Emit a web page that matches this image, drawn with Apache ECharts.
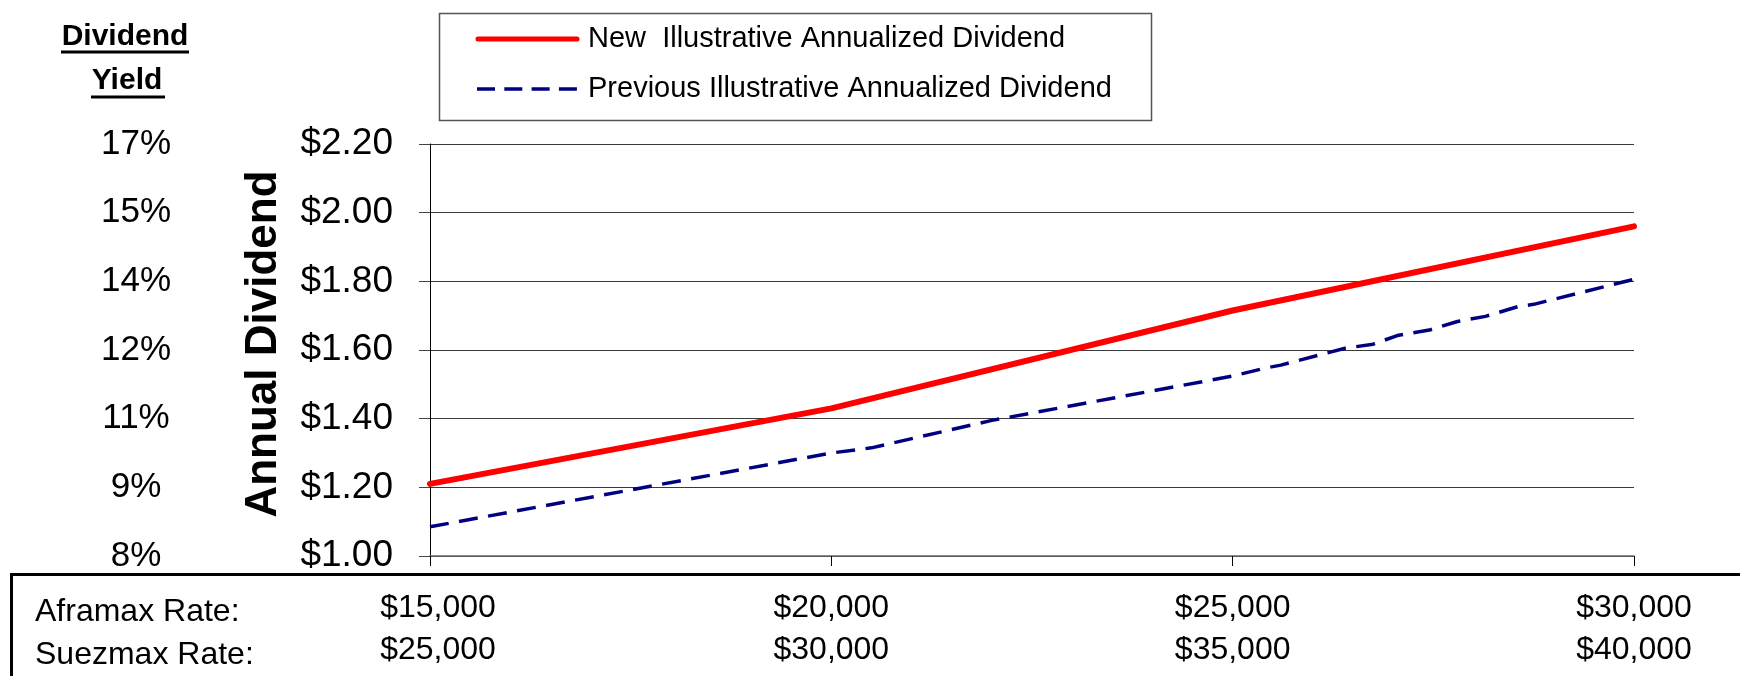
<!DOCTYPE html>
<html>
<head>
<meta charset="utf-8">
<script src="https://cdn.jsdelivr.net/npm/echarts@6/dist/echarts.min.js"></script>
<style>
html,body{margin:0;padding:0;background:#fff;}
#chart{width:1740px;height:676px;}
</style>
</head>
<body>
<div id="chart"></div>
<script>
// ---- data ----
const aframaxRates = [15000, 20000, 25000, 30000];
const aframaxLabels = ['$15,000', '$20,000', '$25,000', '$30,000'];
const suezmaxLabels = ['$25,000', '$30,000', '$35,000', '$40,000'];
const yieldLabels = ['8%', '9%', '11%', '12%', '14%', '15%', '17%'];
const dividendTicks = [1.00, 1.20, 1.40, 1.60, 1.80, 2.00, 2.20];

const newDividend = [1.21, 1.43, 1.715, 1.96];

const prevRates = [15000, 20000, 20500, 22000, 25000, 25400, 25600, 26400, 26750, 27050, 27450, 27800, 28150, 28550, 28750, 30000];
const prevDividend = [1.085, 1.300, 1.315, 1.395, 1.524, 1.547, 1.556, 1.605, 1.617, 1.642, 1.658, 1.683, 1.698, 1.726, 1.733, 1.806];

const seriesNames = ['New  Illustrative Annualized Dividend', 'Previous Illustrative Annualized Dividend'];
const yAxisTitle = 'Annual Dividend';

const FONT = '"Liberation Sans", Arial, sans-serif';
const RED = '#ff0000';
const NAVY = '#000080';

const chart = echarts.init(document.getElementById('chart'), null, {renderer: 'canvas'});

function tickIndex(v) {
  let best = 0, bd = 1e9;
  dividendTicks.forEach((t, i) => { const d = Math.abs(t - v); if (d < bd) { bd = d; best = i; } });
  return best;
}

const option = {
  backgroundColor: '#fff',
  animation: false,
  grid: {left: 430, right: 106, top: 144, bottom: 120, containLabel: false},
  xAxis: {
    type: 'value',
    min: 15000,
    max: 30000,
    interval: 5000,
    axisLine: {show: true, lineStyle: {color: '#666', width: 1.5}},
    axisTick: {show: true, length: 10, inside: false, lineStyle: {color: '#000', width: 1}},
    splitLine: {show: false},
    axisLabel: {
      show: true,
      margin: 31,
      formatter: function (v) {
        const i = aframaxRates.indexOf(v);
        if (i < 0) return '';
        if (i === 0) return '{a0|' + aframaxLabels[i] + '}\n{b0|' + suezmaxLabels[i] + '}';
        return '{a|' + aframaxLabels[i] + '}\n{b|' + suezmaxLabels[i] + '}';
      },
      rich: {
        a: {fontFamily: FONT, fontSize: 32, color: '#000', lineHeight: 42},
        b: {fontFamily: FONT, fontSize: 32, color: '#000', lineHeight: 42},
        a0: {fontFamily: FONT, fontSize: 32, color: '#000', lineHeight: 42, padding: [0, 0, 0, 16]},
        b0: {fontFamily: FONT, fontSize: 32, color: '#000', lineHeight: 42, padding: [0, 0, 0, 16]}
      }
    }
  },
  yAxis: [
    {
      type: 'value',
      min: 1.0,
      max: 2.2,
      interval: 0.2,
      position: 'left',
      axisLine: {show: true, lineStyle: {color: '#000', width: 1}},
      axisTick: {show: true, length: 11, inside: false, lineStyle: {color: '#444'}},
      splitLine: {show: true, lineStyle: {color: '#3a3a3a', width: 1}},
      axisLabel: {
        margin: 37,
        fontFamily: FONT,
        fontSize: 37,
        color: '#000',
        formatter: function (v) { return '$' + dividendTicks[tickIndex(v)].toFixed(2); }
      }
    },
    {
      type: 'value',
      min: 1.0,
      max: 2.2,
      interval: 0.2,
      position: 'left',
      offset: 294,
      axisLine: {show: false},
      axisTick: {show: false},
      splitLine: {show: false},
      axisLabel: {
        margin: 0,
        align: 'center',
        fontFamily: FONT,
        fontSize: 35,
        color: '#000',
        formatter: function (v) { return yieldLabels[tickIndex(v)]; }
      }
    }
  ],
  series: [
    {
      name: seriesNames[0],
      type: 'line',
      data: aframaxRates.map((x, i) => [x, newDividend[i]]),
      showSymbol: false,
      symbol: 'none',
      lineStyle: {color: RED, width: 6, cap: 'round'},
      itemStyle: {color: RED},
      z: 3
    },
    {
      name: seriesNames[1],
      type: 'line',
      data: prevRates.map((x, i) => [x, prevDividend[i]]),
      showSymbol: false,
      symbol: 'none',
      lineStyle: {color: NAVY, width: 3.5, type: [19, 10.5]},
      itemStyle: {color: NAVY},
      z: 2
    }
  ],
  graphic: [
    // y-axis title
    {type: 'text', x: 264, y: 344, rotation: Math.PI / 2, style: {text: yAxisTitle, fontFamily: FONT, fontSize: 44, fontWeight: 'bold', fill: '#000', textAlign: 'center', textVerticalAlign: 'middle'}},
    // legend box
    {type: 'rect', shape: {x: 439.5, y: 13.5, width: 712, height: 107}, style: {fill: 'none', stroke: '#555', lineWidth: 1.5}, z: 0},
    {type: 'line', shape: {x1: 478, y1: 39, x2: 577, y2: 39}, style: {stroke: RED, lineWidth: 5, lineCap: 'round'}},
    {type: 'text', x: 588, y: 39, style: {text: seriesNames[0], fontFamily: FONT, fontSize: 29, fill: '#000', textAlign: 'left', textVerticalAlign: 'middle'}},
    {type: 'line', shape: {x1: 477, y1: 89, x2: 577, y2: 89}, style: {stroke: NAVY, lineWidth: 3.5, lineDash: [18, 9.3]}},
    {type: 'text', x: 588, y: 89, style: {text: seriesNames[1], fontFamily: FONT, fontSize: 29, fill: '#000', textAlign: 'left', textVerticalAlign: 'middle'}},
    // bottom box
    {type: 'rect', shape: {x: 11.5, y: 574.5, width: 1800, height: 200}, style: {fill: 'none', stroke: '#000', lineWidth: 3}},
    // Dividend Yield header
    {type: 'text', x: 125, y: 37, style: {text: 'Dividend', fontFamily: FONT, fontSize: 30, fontWeight: 'bold', fill: '#000', textAlign: 'center', textVerticalAlign: 'middle'}},
    {type: 'line', shape: {x1: 61, y1: 52, x2: 189, y2: 52}, style: {stroke: '#000', lineWidth: 3}},
    {type: 'text', x: 127, y: 81, style: {text: 'Yield', fontFamily: FONT, fontSize: 30, fontWeight: 'bold', fill: '#000', textAlign: 'center', textVerticalAlign: 'middle'}},
    {type: 'line', shape: {x1: 91, y1: 97, x2: 165, y2: 97}, style: {stroke: '#000', lineWidth: 3}},
    // row labels
    {type: 'text', x: 35, y: 612, style: {text: 'Aframax Rate:', fontFamily: FONT, fontSize: 32, fill: '#000', textAlign: 'left', textVerticalAlign: 'middle'}},
    {type: 'text', x: 35, y: 655, style: {text: 'Suezmax Rate:', fontFamily: FONT, fontSize: 32, fill: '#000', textAlign: 'left', textVerticalAlign: 'middle'}}
  ]
};

chart.setOption(option);
</script>
</body>
</html>
